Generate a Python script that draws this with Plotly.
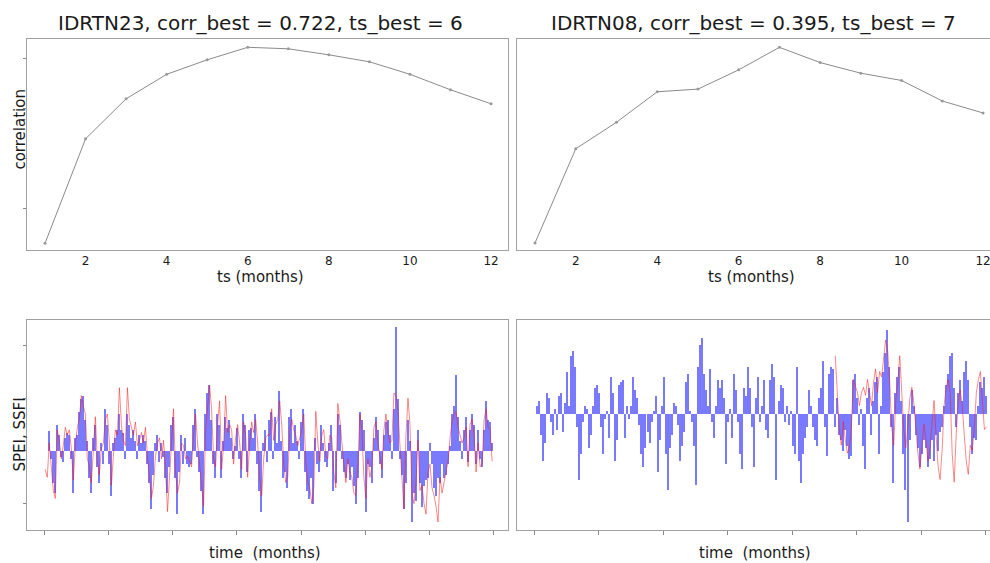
import plotly.graph_objects as go

# ---------------- data ----------------
ts = list(range(1, 13))
corr_idrtn23 = [0.330, 0.539, 0.619, 0.668, 0.697, 0.722, 0.719, 0.707, 0.693, 0.668, 0.637, 0.609]
corr_idrtn08 = [0.100, 0.242, 0.282, 0.328, 0.332, 0.361, 0.395, 0.372, 0.356, 0.345, 0.314, 0.296]

titles = ["IDRTN23, corr_best = 0.722, ts_best = 6",
          "IDRTN08, corr_best = 0.395, ts_best = 7"]

# time series, one value every 3 months
step_months = 3
start_left = 1
start_right = 4

spei_idrtn23 = [
    None, None, 0.75, -0.3, -1.2, -1.6, 1.0, 0.6, -0.2, -0.4, 0.5, 0.7, 0.6, -0.3, -1.6, 0.5, 0.6, 1.5, 2.0, 2.1,
    1.2, 0.4, -1.0, -1.6, 0.5, 1.0, -0.6, -1.2, 0.3, -0.5, 1.6, 1.0, -0.5, -1.7, 0.3, 0.5, 0.8, 1.4, 0.8, 0.7,
    -0.3, 1.4, 1.0, 0.5, 0.8, 0.4, -0.3, 0.6, 0.3, 0.6, 0.4, -0.5, -1.2, -2.2, -0.9, 0.3, 0.6, -0.4, 0.3, -0.2,
    -1.0, -1.6, -0.6, 1.0, 1.3, -1.0, -2.4, -0.8, 0.6, -0.5, 0.5, -0.5, -0.6, -0.5,
    1.0, 1.6, -0.2, -0.8, -1.5, -2.4, 1.4, 2.2, 2.5, 1.2, -0.5, -1.0, 1.4, 1.0, -1.0, 0.4, 1.3, 0.9, 1.2, 0.5,
    -0.3, 0.2, 0.9, -0.3, -1.0, 1.4, 1.0, -0.8, 0.8, 0.9, 0.5, 1.4, -0.5, -1.5, -2.3, 0.3, 0.8, -0.4, 1.2, 1.5,
    -0.3, 1.3, 0.3, 2.3, 0.4, -1.0, -0.8, -1.4, 1.3, 1.6, 0.3, 1.0, 0.4, -0.3, 1.1, 1.6, -0.8, -1.5, -1.8, -1.0,
    -2.0, 0.5, -0.5, -0.8, 1.0, 0.3, -0.4, -0.6, 0.3, 1.0, -1.5, -1.2, 1.4, 1.0,
    -0.3, -0.8, -1.0, -0.5, -1.1, -0.6, -1.3, -2.0, -1.0, 1.5, 1.2, 0.8, -2.3, -0.5, -0.6, -1.2, 0.5, 1.3, 0.8, -0.5,
    -1.0, 0.6, 1.1, 1.2, 0.6, -0.3, 1.6, 4.7, 2.0, -0.3, -0.9, -2.2, -1.2, 1.2, 0.4, -2.7, -1.6, -1.9, 0.8, -1.2,
    -2.1, -1.3, -1.1, -1.0, 0.3, -0.5, -1.4, -1.7, -1.0, -1.2, -0.5, -1.0, -0.9, -0.5, 0.2, 1.4, 1.7, 2.9, 1.3, 0.4,
    -0.3, 0.8, 1.3, -0.4, 0.8, 1.4, 1.0, -0.5, 0.8, -0.3, -0.6, 0.8, 1.9, 1.2, 1.1, 0.3,
]
ssfi_idrtn23 = [
    -0.7, -1.0, 0.3, -0.6, -1.5, -1.8, 0.8, 0.4, -0.3, 0.2, 0.9, 0.6, 0.8, 0.1, -1.1, 0.2, 0.9, 1.2, 2.1, 1.7,
    1.4, -0.3, -0.6, -1.2, 0.2, 1.3, -0.4, -0.9, 0.1, 0.3, 1.2, 1.4, 0.3, -1.3, -0.2, 0.8, 0.6, 2.4, 1.0, 0.4,
    0.2, 2.4, 1.2, 0.9, 0.6, 1.1, 0.2, 0.4, 0.7, 0.3, 0.9, -0.2, -0.9, -1.8, -1.3, -0.2, 0.3, 0.5, -0.3, 0.4,
    -0.6, -2.3, -1.0, 0.5, 1.6, -0.8, -1.6, -1.2, 0.3, 0.2, -0.3, -0.2, -0.4, -0.6,
    0.6, 1.4, 0.3, -0.5, -1.2, -2.1, 0.8, 1.8, 2.5, 1.6, -0.3, -0.6, 1.0, 1.9, -0.7, 0.2, 2.1, 0.7, 1.0, 0.8,
    -0.5, 0.5, 1.0, 0.3, -0.7, 1.1, 0.6, -1.0, 0.3, 1.1, 0.7, 1.2, 0.3, -1.0, -1.7, -0.3, 0.5, 0.6, 0.6, 1.6,
    0.4, 1.0, 1.2, 1.9, 1.0, -0.5, -1.2, -1.0, 0.8, 1.2, 0.8, 0.6, 0.2, 0.5, 0.8, 1.4, -0.4, -1.2, -1.4, -2.0,
    -1.4, 1.5, 0.3, -0.4, 0.6, 0.8, -0.2, -0.3, 0.6, 0.5, -0.8, -1.4, 1.8, 1.2,
    0.2, -0.5, -1.2, -0.3, -0.8, -1.0, -1.6, -1.7, -0.5, 1.4, 0.8, -1.0, -1.8, -0.3, -1.0, -0.6, 0.9, 1.1, 0.3, -0.2,
    -0.7, 0.8, 1.4, 0.7, 0.3, 0.4, 2.2, 2.1, 1.6, 0.2, -1.0, -2.2, 0.6, 2.0, 1.0, -1.6, -2.0, -1.2, 0.4, -1.5,
    -1.3, -2.0, -2.4, -0.8, -0.5, -1.4, -1.7, -2.1, -2.7, -1.0, -1.6, -1.2, -0.7, -0.4, 0.5, 1.1, 1.4, 1.5, 0.9, 0.6,
    0.3, 0.5, 0.9, -0.6, 1.0, 1.2, 0.6, -0.8, 0.3, -0.6, -0.5, 1.2, 1.6, 0.9, 0.8, -0.4,
]

spei_idrtn08 = [
    0.3, 0.5, -0.8, -1.8, -1.1, 0.8, 0.6, -0.3, -0.8, 0.2,
    -0.6, 0.7, 0.8, -0.7, 0.4, 1.6, 0.3, 2.2, 2.4, 1.8,
    -0.5, -2.5, -1.5, -0.3, 0.3, 0.2, -1.3, -0.8, 0.3, 1.0,
    1.1, 0.8, -0.5, -1.5, -0.2, 0.1, -0.9, 1.4, 0.8, -1.8,
    -1.0, 1.1, 1.2, 1.3, -0.9, 0.3, -0.2, 0.3, 1.4, 0.9,
    0.6, -0.4, -1.5, -2.0, -1.3, -0.7, -1.1, -0.3, 0.1, 0.7,
    -2.2, -1.0, 0.3, 1.4, -1.5, -2.9, -1.3, -0.8, 0.4, 0.3,
    -0.4, -1.8, -1.2, -0.7, 1.2, 1.5, 0.1, -0.3, -1.2, -2.7,
    1.8, 2.6, 2.9, 1.5, 0.9, 0.3, 1.7, -0.3, -0.9, 0.3,
    1.3, 1.0, 1.3, 0.6, -1.9, -0.3, 0.2, -0.9, 1.5, 0.9,
    -0.3, -1.5, -2.1, 1.0, 0.7, 1.8, 1.0, -0.5, -2.0, 0.6,
    1.4, -0.3, 0.3, 1.3, -0.6, -0.9, 1.3, 1.9, 1.4, -2.5,
    0.5, 1.1, 1.0, -0.3, 0.3, -0.4, 0.1, -1.2, -1.5, 1.8,
    -1.8, -2.6, -1.5, -0.9, -0.5, 0.9, 0.3, -0.5, -1.0, -1.2,
    0.6, 1.0, 2.0, -0.5, -1.6, 1.5, 1.8, 1.7, -0.5, 0.6,
    -0.8, -1.0, -1.4, -0.6, -1.2, -1.7, -1.6, 1.3, 1.5, 0.6,
    -0.4, 0.2, -1.2, -2.1, 0.6, 1.0, -0.8, 0.5, 1.2, 1.4,
    -1.5, 0.3, 1.6, 2.3, 3.2, 1.8, -0.5, -2.6, 0.8, 1.4,
    1.8, 0.5, -1.5, -2.9, -4.1, -1.0, 0.9, 0.3, -0.8, -1.3,
    -2.0, -1.5, -1.0, -1.3, -2.0, -1.7, -1.0, -1.8, -0.8, -1.4,
    -0.7, -0.5, 0.3, 1.1, 1.5, 2.2, 2.3, 1.0, -0.5, 0.8,
    1.3, 0.5, 1.6, 2.0, 1.3, -0.5, -1.5, -0.9, -1.0, 0.3,
    1.2, 1.0, 1.4, 0.7,
]
ssfi_idrtn08 = [None] * 148 + [
    2.2, 1.0, -0.6, -1.2, -0.3, -1.0, -1.5, -1.3, -0.5, 1.3,
    1.0, 0.8, 0.3, 0.8, 1.0, 0.7, 1.3, 0.8, 0.3, 1.2,
    1.7, 0.8, 1.6, 1.4, 2.2, 2.8, 2.4, 1.2, -0.5, -1.2,
    0.5, 1.2, 2.2, 1.0, -0.6, -1.3, -0.5, 0.6, 1.0, 0.4,
    -0.6, -1.5, -2.1, -1.2, -0.4, -1.0, -1.8, -1.3, -0.3, 0.5,
    -0.8, -2.0, -2.5, -1.4, 0.3, 1.0, 1.3, 0.8, -1.5, -2.6,
    -0.8, 0.5, 0.9, 0.3, -0.8, -1.8, -2.3, -1.2, -1.4, -0.5,
    0.8, 1.3, 1.6, 0.4, -0.6, -0.5,
]

months_left = [start_left + step_months * i for i in range(len(spei_idrtn23))]
months_right = [start_right + step_months * i for i in range(len(spei_idrtn08))]

# ---------------- layout geometry ----------------
W, H = 990, 563
def px_x(p): return p / W
def px_y(p): return 1 - p / H

dom_x_left = [px_x(27.3), px_x(508.3)]
dom_x_right = [px_x(517.3), 1.0]
dom_y_top = [px_y(250), px_y(39.3)]
dom_y_bot = [px_y(530), px_y(319.7)]

LINE = "#a0a0a0"
TXT = "#1a1a1a"
FONT = "DejaVu Sans"
BLUE = "#7a7aff"
RED = "rgba(255,20,20,0.5)"

fig = go.Figure()

# top panels
fig.add_trace(go.Scatter(x=ts, y=corr_idrtn23, mode="lines+markers",
                         line=dict(color="#8a8a8a", width=1),
                         marker=dict(size=3, color="#9a9a9a"),
                         xaxis="x", yaxis="y"))
fig.add_trace(go.Scatter(x=ts, y=corr_idrtn08, mode="lines+markers",
                         line=dict(color="#8a8a8a", width=1),
                         marker=dict(size=3, color="#9a9a9a"),
                         xaxis="x2", yaxis="y2"))

# bottom panels
fig.add_trace(go.Bar(x=months_left, y=spei_idrtn23, width=1.6,
                     marker=dict(color=BLUE, line=dict(width=0)),
                     xaxis="x3", yaxis="y3"))
fig.add_trace(go.Scatter(x=months_left, y=ssfi_idrtn23, mode="lines",
                         line=dict(color=RED, width=1),
                         xaxis="x3", yaxis="y3"))
fig.add_trace(go.Bar(x=months_right, y=spei_idrtn08, width=1.6,
                     marker=dict(color=BLUE, line=dict(width=0)),
                     xaxis="x4", yaxis="y4"))
fig.add_trace(go.Scatter(x=months_right, y=ssfi_idrtn08, mode="lines",
                         line=dict(color=RED, width=1),
                         xaxis="x4", yaxis="y4"))

common_x_top = dict(showline=True, linecolor=LINE, linewidth=1, mirror=True,
                    showgrid=False, zeroline=False, ticks="",
                    tickvals=[2, 4, 6, 8, 10, 12], ticklabeloverflow="allow",
                    tickfont=dict(family=FONT, size=12, color=TXT))
common_x_bot = dict(showline=True, linecolor=LINE, linewidth=1, mirror=True,
                    showgrid=False, zeroline=False, ticks="outside", ticklen=4,
                    tickcolor="#888", dtick=96, tick0=0, showticklabels=False)

fig.update_layout(
    width=W, height=H,
    margin=dict(l=0, r=0, t=0, b=0),
    paper_bgcolor="white", plot_bgcolor="white",
    showlegend=False,
    bargap=0,
    font=dict(family=FONT, color=TXT),
    xaxis=dict(domain=dom_x_left, anchor="y", range=[0.563, 12.425], **common_x_top),
    yaxis=dict(domain=dom_y_top, anchor="x", range=[0.3166, 0.738],
               showline=True, linecolor=LINE, linewidth=1, mirror=True,
               showgrid=False, zeroline=False, ticks="outside", ticklen=3,
               tickcolor="#888", tickvals=[0.4, 0.5, 0.6, 0.7], showticklabels=False),
    xaxis2=dict(domain=dom_x_right, anchor="y2", range=[0.565, 12.17], **common_x_top),
    yaxis2=dict(domain=dom_y_top, anchor="x2", range=[0.0894, 0.4071],
                showline=True, linecolor=LINE, linewidth=1, mirror=False,
                showgrid=False, zeroline=False, ticks="", showticklabels=False),
    xaxis3=dict(domain=dom_x_left, anchor="y3", range=[-25.9, 694.2], **common_x_bot),
    yaxis3=dict(domain=dom_y_bot, anchor="x3", range=[-3.0, 4.98],
                showline=True, linecolor=LINE, linewidth=1, mirror=True,
                showgrid=False, zeroline=False, ticks="outside", ticklen=3,
                tickcolor="#888", tickvals=[-2, 0, 2, 4], showticklabels=False),
    xaxis4=dict(domain=dom_x_right, anchor="y4", range=[-25.3, 678.3], **common_x_bot),
    yaxis4=dict(domain=dom_y_bot, anchor="x4", range=[-4.414, 3.567],
                showline=True, linecolor=LINE, linewidth=1, mirror=False,
                showgrid=False, zeroline=False, ticks="", showticklabels=False),
)

# text
def ann(text, xp, yp, size, angle=0):
    fig.add_annotation(text=text, x=px_x(xp), y=px_y(yp), xref="paper", yref="paper",
                       xanchor="center", yanchor="middle", showarrow=False,
                       textangle=angle, font=dict(family=FONT, size=size, color=TXT))

ann(titles[0], 260.3, 23, 20)
ann(titles[1], 753.7, 23, 20)
ann("ts (months)", 260, 276.5, 15)
ann("ts (months)", 751, 276.5, 15)
ann("correlation", 20, 129.6, 15, -90)
ann("SPEI, SSFI", 19.5, 435, 15, -90)
ann("time \u00a0(months)", 265, 553, 15)
ann("time \u00a0(months)", 755, 553, 15)

fig.write_html("out.html")
